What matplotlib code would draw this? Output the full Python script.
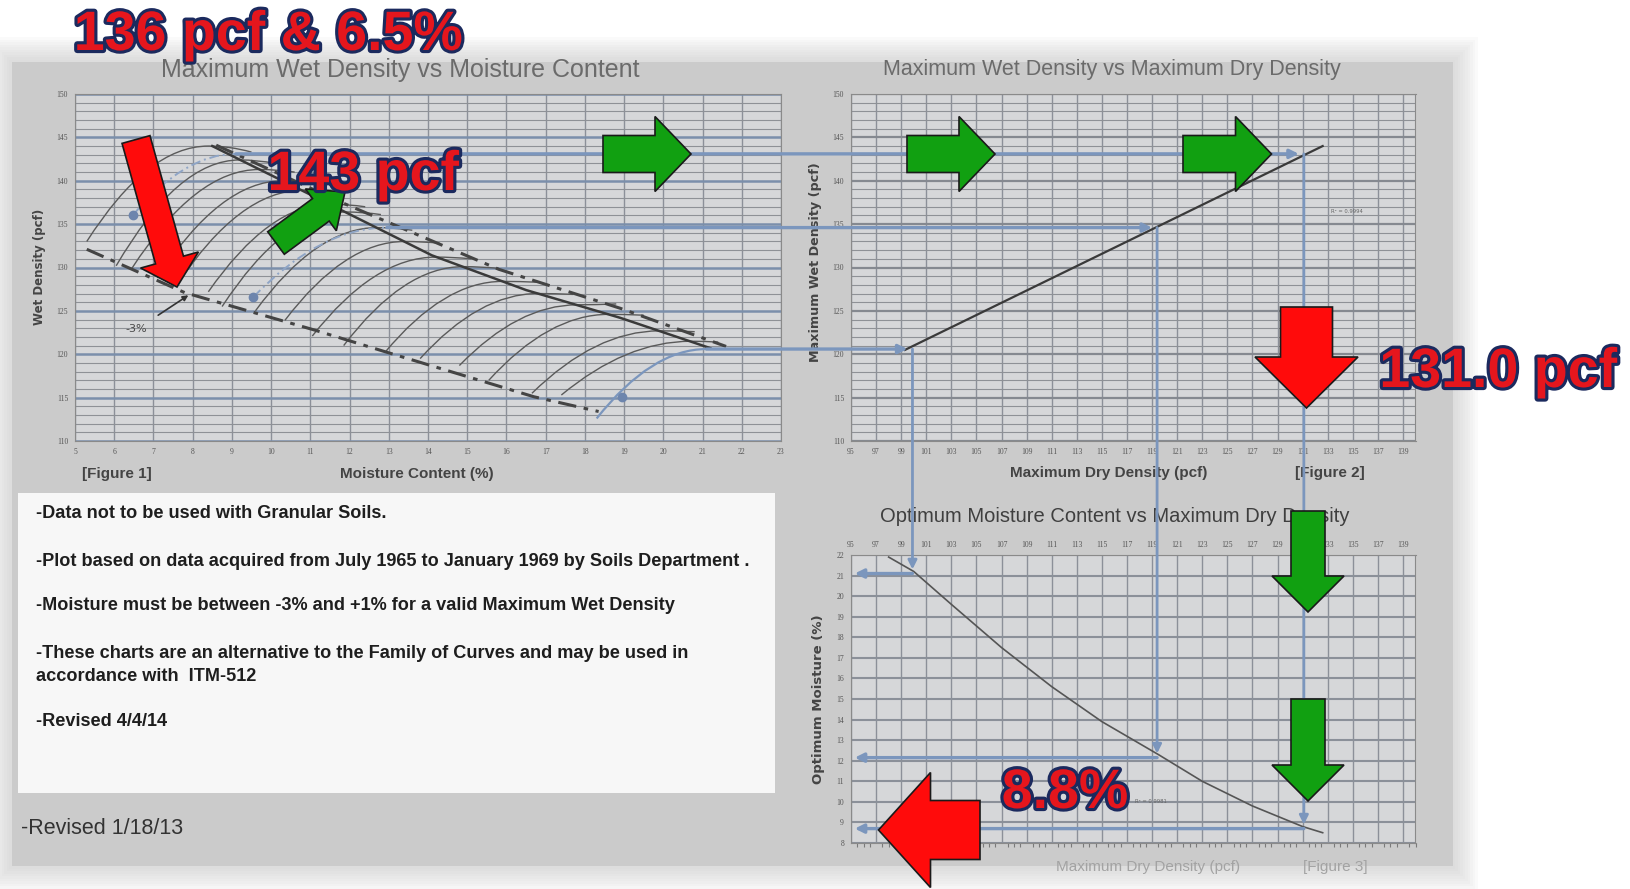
import matplotlib.pyplot as plt
import matplotlib.patheffects as pe
from matplotlib.patches import Rectangle, FancyArrow, PathPatch, ConnectionPatch
from matplotlib.path import Path
from matplotlib.ticker import MultipleLocator

W, H = 1631, 889

# Figure 1 - family of compaction curves (moisture %, wet density pcf)
curve_start_x = [5.3, 6.05, 6.45, 7.1, 7.6, 8.4, 8.75, 9.6, 10.35, 11.05, 11.85, 12.9, 13.8, 14.8, 15.55, 16.65, 17.4]
curve_start_y = [133.0, 130.2, 129.9, 128.8, 128.0, 127.2, 125.5, 125.0, 123.9, 122.1, 121.0, 120.2, 119.5, 118.7, 117.0, 115.5, 115.3]
curve_peak_x = [8.4, 9.2, 9.7, 10.3, 10.8, 11.5, 11.9, 12.7, 13.4, 14.2, 14.9, 15.9, 16.8, 17.8, 18.6, 19.9, 20.7]
curve_peak_y = [144.0, 142.4, 141.3, 140.0, 138.9, 137.3, 136.4, 134.6, 133.0, 131.2, 130.1, 128.4, 127.0, 125.7, 124.6, 122.7, 121.5]
curve_end_x = [9.5, 10.1, 10.6, 11.2, 11.7, 12.4, 12.8, 13.6, 14.3, 15.1, 15.8, 16.8, 17.7, 18.8, 19.5, 20.8, 21.4]
curve_end_y = [143.3, 142.0, 141.0, 139.7, 138.6, 137.0, 136.1, 134.3, 132.8, 131.0, 129.9, 128.3, 126.9, 125.8, 124.5, 122.6, 121.4]

opt_line_x = [8.5, 11.0, 14.1, 16.5, 18.9, 21.2]
opt_line_y = [144.0, 138.4, 131.4, 127.4, 124.2, 120.7]
plus_line_x = [8.6, 11.9, 15.8, 18.9, 21.6]
plus_line_y = [144.1, 137.3, 129.8, 125.3, 120.9]
minus_line_x = [5.3, 7.8, 11.1, 12.9, 16.7, 18.35]
minus_line_y = [132.1, 127.1, 122.8, 120.3, 115.1, 113.4]

# sample points and their one-point curves
dot_moist = [6.47, 9.55, 18.95]
dot_wet = [136.0, 126.6, 115.1]
trace_start_x = [6.47, 9.55, 18.3]
trace_start_y = [136.0, 126.6, 112.6]
trace_peak_moist = [9.1, 12.95, 21.1]

# read-off path: max wet density -> max dry density -> optimum moisture
trace_wet = [143.1, 134.6, 120.6]
trace_dry = [131.1, 119.4, 99.9]
trace_opt = [8.7, 12.15, 21.1]

# Figure 2 - trend line
fit_dry = [99.3, 132.6]
fit_wet = [120.5, 144.0]

# Figure 3 - optimum moisture vs max dry density
opt_dry = [98.0, 100.0, 103.0, 107.0, 111.0, 115.0, 119.5, 123.0, 127.0, 131.0, 132.6]
opt_moist = [21.9, 21.2, 19.6, 17.5, 15.6, 13.9, 12.3, 11.0, 9.8, 8.8, 8.5]

notes = ["-Data not to be used with Granular Soils.",
         "-Plot based on data acquired from July 1965 to January 1969 by Soils Department .",
         "-Moisture must be between -3% and +1% for a valid Maximum Wet Density",
         "-These charts are an alternative to the Family of Curves and may be used in\naccordance with  ITM-512",
         "-Revised 4/4/14"]

SANS = ['Liberation Sans']
TRACE = '#7b96bd'
RED = '#ff0b0b'
GREEN = '#11a011'

fig = plt.figure(figsize=(W / 100, H / 100), dpi=100)
fig.patch.set_facecolor('white')


def rect(x0, y0, x1, y1):
    return [x0 / W, 1 - y1 / H, (x1 - x0) / W, (y1 - y0) / H]


# background layer (pixel coordinates)
bg = fig.add_axes([0, 0, 1, 1], zorder=-10)
bg.set_xlim(0, W)
bg.set_ylim(H, 0)
bg.axis('off')
for k in range(10, 0, -1):
    bg.add_patch(Rectangle((12 - k * 2.5, 62 - k * 2.5), 1441 + k * 5, 804 + k * 5,
                           color='#c4c4c4', alpha=0.07, lw=0))
bg.add_patch(Rectangle((12, 62), 1441, 804, color='#cbcbcb', lw=0))
bg.add_patch(Rectangle((18, 493), 757, 300, color='#f7f7f7', lw=0))

note_y = [513, 561, 606, 665, 722]
for txt, y in zip(notes, note_y):
    bg.text(36, y, txt, fontsize=13.1, fontweight='bold', family=SANS, color='#1e1e1e',
            va='center', ha='left', linespacing=1.45)
bg.text(21, 829, "-Revised 1/18/13", fontsize=15.5, family=SANS, color='#333333', va='center')

# titles and axis labels
bg.text(400, 70, "Maximum Wet Density vs Moisture Content", fontsize=18, family=SANS,
        color='#6b6b6b', ha='center', va='center')
bg.text(1112, 70, "Maximum Wet Density vs Maximum Dry Density", fontsize=15.5, family=SANS,
        color='#6b6b6b', ha='center', va='center')
bg.text(1115, 516, "Optimum Moisture Content vs Maximum Dry Density", fontsize=14.5, family=SANS,
        color='#3f3f3f', ha='center', va='center')
bg.text(40, 267, "Wet Density (pcf)", fontsize=8.5, fontweight='bold', color='#444444',
        rotation=90, ha='center', va='center')
bg.text(417, 474, "Moisture Content (%)", fontsize=11, fontweight='bold', family=SANS,
        color='#444444', ha='center', va='center')
bg.text(117, 474, "[Figure 1]", fontsize=11, fontweight='bold', family=SANS,
        color='#444444', ha='center', va='center')
bg.text(816, 262, "Maximum Wet Density (pcf)", fontsize=9.2, fontweight='bold', color='#444444',
        rotation=90, ha='center', va='center')
bg.text(1109, 473, "Maximum Dry Density (pcf)", fontsize=11, fontweight='bold', family=SANS,
        color='#444444', ha='center', va='center')
bg.text(1330, 473, "[Figure 2]", fontsize=11, fontweight='bold', family=SANS,
        color='#444444', ha='center', va='center')
bg.text(819, 699, "Optimum Moisture (%)", fontsize=9.5, fontweight='bold', color='#444444',
        rotation=90, ha='center', va='center')
bg.text(1148, 867, "Maximum Dry Density (pcf)", fontsize=11, family=SANS,
        color='#a3a3a3', ha='center', va='center')
bg.text(1335, 867, "[Figure 3]", fontsize=11, family=SANS,
        color='#a3a3a3', ha='center', va='center')

ax1 = fig.add_axes(rect(75, 94, 781, 441))
ax2 = fig.add_axes(rect(851, 94, 1415.5, 441))
ax3 = fig.add_axes(rect(851, 555, 1415.5, 843))


def style(ax, xlim, ylim, xstep, ymajor, yminor, major_c, major_lw, minor_lw):
    ax.set_facecolor('#d6d7d9')
    ax.set_xlim(*xlim)
    ax.set_ylim(*ylim)
    ax.set_xticks(range(xlim[0], xlim[1] + 1 if xstep == 1 else xlim[1], xstep))
    ax.yaxis.set_major_locator(MultipleLocator(ymajor))
    ax.yaxis.set_minor_locator(MultipleLocator(yminor))
    ax.grid(axis='x', color='#8c9099', lw=1.0)
    ax.grid(axis='y', which='major', color=major_c, lw=major_lw)
    ax.grid(axis='y', which='minor', color='#8e9196', lw=minor_lw)
    ax.set_axisbelow(True)
    ax.tick_params(which='both', length=0, labelsize=5.5, labelcolor='#555555', pad=5)
    for lab in ax.get_xticklabels() + ax.get_yticklabels():
        lab.set_family('Liberation Serif')
    for s in ax.spines.values():
        s.set_color('#8a8a8a')
        s.set_linewidth(0.8)


style(ax1, (5, 23), (110, 150), 1, 5, 1, '#7b8fab', 1.8, 0.8)
style(ax2, (95, 140), (110, 150), 2, 5, 1, '#858990', 1.6, 0.8)
style(ax3, (95, 140), (8, 22), 2, 1, 1, '#8b9099', 1.5, 0)
ax3.xaxis.tick_top()
ax3.tick_params(axis='x', pad=4)
ax3.xaxis.set_minor_locator(MultipleLocator(0.5))
ax3.tick_params(axis='x', which='minor', bottom=True, top=False, length=3, width=0.8,
                color='#7a7a7a')
for lab in ax3.get_xticklabels():
    lab.set_family('Liberation Serif')


def arc(ax, xs, ys, xp, yp, xe=None, ye=None, **kw):
    verts = [(xs, ys), ((xs + xp) / 2, yp), (xp, yp)]
    codes = [Path.MOVETO, Path.CURVE3, Path.CURVE3]
    if xe is not None:
        verts += [((xp + xe) / 2, yp), (xe, ye)]
        codes += [Path.CURVE3, Path.CURVE3]
    ax.add_patch(PathPatch(Path(verts, codes), fill=False, **kw))


# Figure 1 content
for i in range(len(curve_start_x)):
    arc(ax1, curve_start_x[i], curve_start_y[i], curve_peak_x[i], curve_peak_y[i],
        curve_end_x[i], curve_end_y[i], ec='#5a5a5a', lw=1.0)
ax1.plot(opt_line_x, opt_line_y, color='#3a3a3a', lw=1.8)
ax1.plot(plus_line_x, plus_line_y, color='#444444', lw=2.2, ls=(0, (6, 2.5, 1.5, 2.5)))
ax1.plot(minus_line_x, minus_line_y, color='#444444', lw=2.2, ls=(0, (6, 2.5, 1.5, 2.5)))
for i in range(2):
    arc(ax1, trace_start_x[i], trace_start_y[i], trace_peak_moist[i], trace_wet[i],
        ec='#8fa5c6', lw=1.4, ls=(0, (5, 2, 1, 2)))
arc(ax1, trace_start_x[2], trace_start_y[2], trace_peak_moist[2], trace_wet[2], ec=TRACE, lw=1.6)
ax1.plot(dot_moist, dot_wet, 'o', color='#6d85ad', ms=6)
ax1.text(6.57, 122.9, "-3%", fontsize=8, color='#4a4a4a', ha='center', va='center')
ax1.annotate('', xy=(7.89, 126.8), xytext=(7.12, 124.5),
             arrowprops=dict(arrowstyle='-|>', color='#333333', lw=1.2, mutation_scale=8,
                             shrinkA=0, shrinkB=0))

# Figure 2 content
ax2.plot(fit_dry, fit_wet, color='#3a3a3a', lw=1.6)
ax2.text(133.3, 136.5, "R² = 0.9994", fontsize=3.8, color='#666666', va='center')

# Figure 3 content
ax3.plot(opt_dry, opt_moist, color='#555555', lw=1.2)
ax3.text(117.6, 10.0, "R² = 0.9981", fontsize=3.8, color='#666666', va='center')

# trace lines across the three charts
for i in range(3):
    h = ConnectionPatch(xyA=(trace_peak_moist[i], trace_wet[i]), coordsA=ax1.transData,
                        xyB=(trace_dry[i] - 0.4, trace_wet[i]), coordsB=ax2.transData,
                        arrowstyle='-|>', mutation_scale=13, color=TRACE, lw=2.4,
                        shrinkA=0, shrinkB=0)
    fig.add_artist(h)
    v = ConnectionPatch(xyA=(trace_dry[i], trace_wet[i]), coordsA=ax2.transData,
                        xyB=(trace_dry[i], trace_opt[i] + 0.2), coordsB=ax3.transData,
                        arrowstyle='-|>', mutation_scale=13, color=TRACE, lw=2.0,
                        shrinkA=0, shrinkB=0)
    fig.add_artist(v)
    ax3.annotate('', xy=(95.3, trace_opt[i]), xytext=(trace_dry[i], trace_opt[i]),
                 arrowprops=dict(arrowstyle='-|>', color=TRACE, lw=2.4, mutation_scale=13,
                                 shrinkA=0, shrinkB=0))

# foreground layer: callout arrows and big labels (pixel coordinates)
fg = fig.add_axes([0, 0, 1, 1], zorder=20)
fg.set_xlim(0, W)
fg.set_ylim(H, 0)
fg.axis('off')
fg.patch.set_alpha(0)

callouts = [
    ((136, 139.5), (177, 287), 29, 60, 28, RED),
    ((276, 243), (345, 192), 28, 52, 30, GREEN),
    ((603, 154), (691, 154), 37, 75, 36, GREEN),
    ((907, 154), (995, 154), 37, 75, 36, GREEN),
    ((1183, 154), (1271.5, 154), 37, 75, 36, GREEN),
    ((1306.5, 307), (1306.5, 408), 52, 103, 51, RED),
    ((1308, 511), (1308, 612), 34, 72, 36, GREEN),
    ((1308, 699), (1308, 801), 34, 72, 36, GREEN),
    ((980, 830), (878.5, 830), 59, 115, 52, RED),
]
for tail, tip, w, hw, hl, c in callouts:
    fg.add_patch(FancyArrow(tail[0], tail[1], tip[0] - tail[0], tip[1] - tail[1], width=w,
                            head_width=hw, head_length=hl, length_includes_head=True,
                            fc=c, ec='#1a1a1a', lw=1.2))

big_labels = [("136 pcf & 6.5%", 268, 50), ("143 pcf", 363, 190),
              ("131.0 pcf", 1498, 387), ("8.8%", 1065, 808)]
for txt, x, y in big_labels:
    fg.text(x, y, txt, fontsize=40, fontweight='bold', family=SANS, color='#e5161d',
            ha='center', va='baseline',
            path_effects=[pe.withStroke(linewidth=4.5, foreground='#1b2a5e')])

fig.savefig('out.png', dpi=100, facecolor='white')
